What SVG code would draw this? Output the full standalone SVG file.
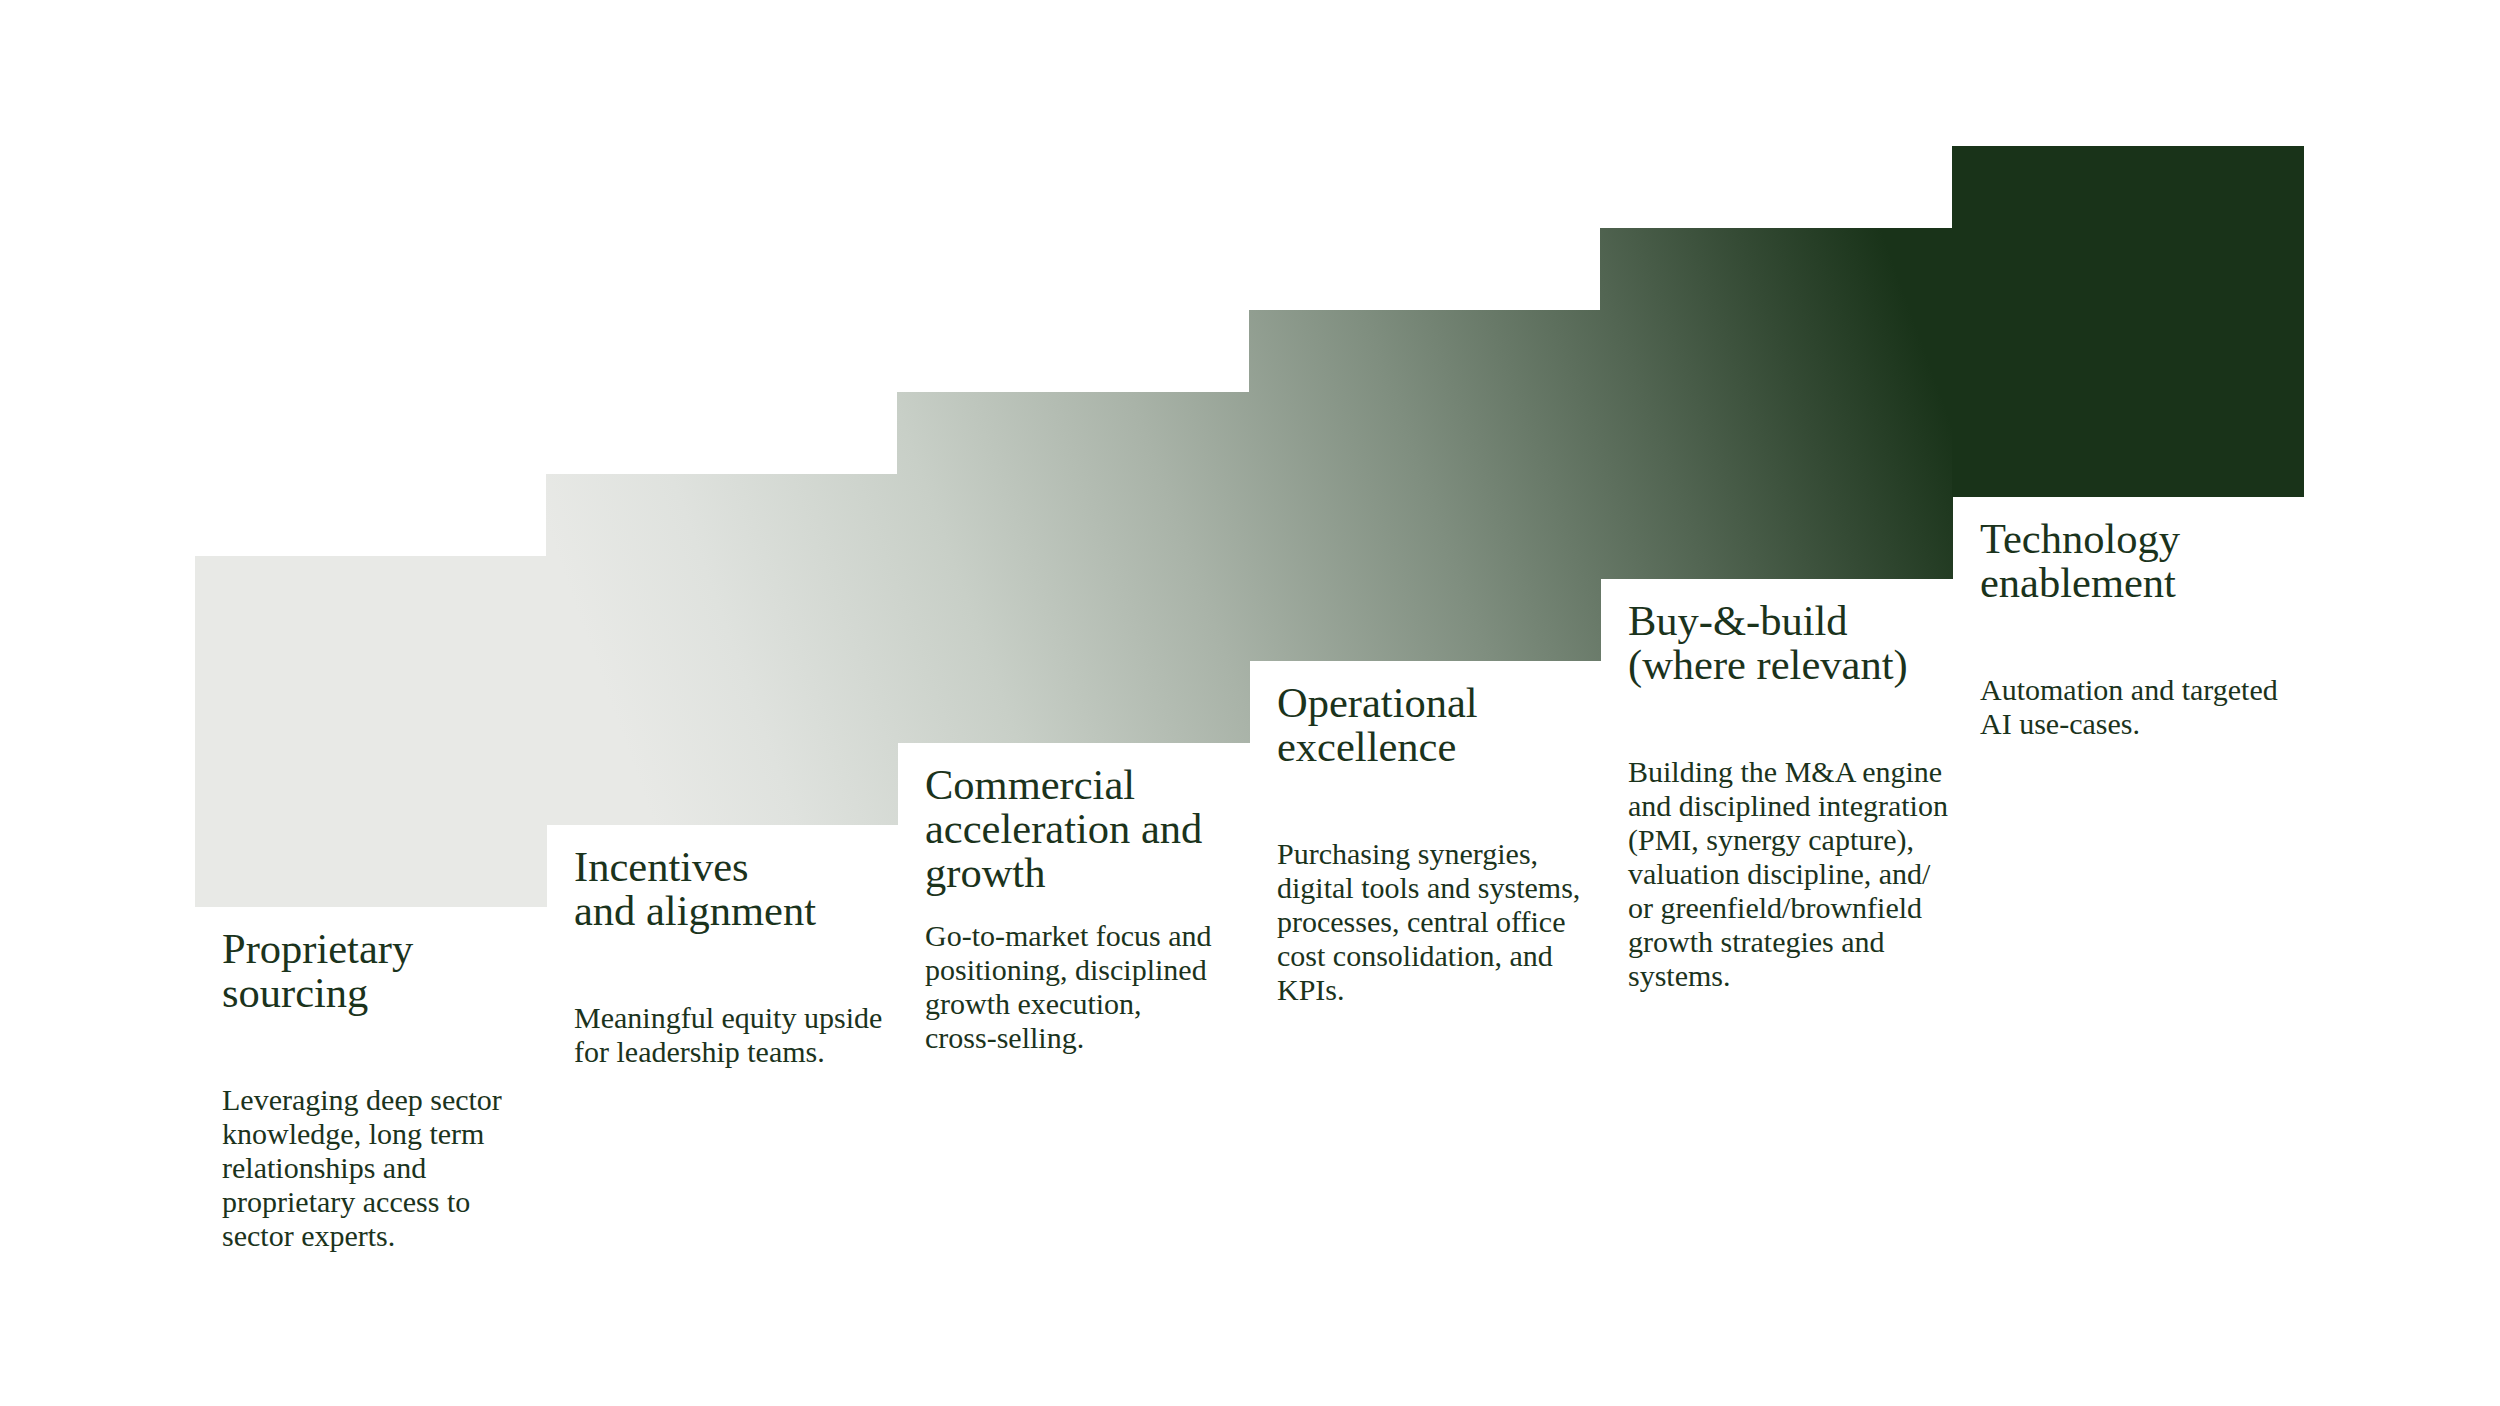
<svg xmlns="http://www.w3.org/2000/svg" width="2500" height="1406" viewBox="0 0 2500 1406">
  <defs>
    <linearGradient id="stairGrad" gradientUnits="userSpaceOnUse" x1="195" y1="907" x2="2304" y2="146">
      <stop offset="0" stop-color="#e8e9e6"/>
      <stop offset="0.205" stop-color="#e8e9e6"/>
      <stop offset="0.265" stop-color="#dfe2de"/>
      <stop offset="0.37" stop-color="#c8cfc7"/>
      <stop offset="0.47" stop-color="#a9b3a8"/>
      <stop offset="0.58" stop-color="#7f8e7f"/>
      <stop offset="0.685" stop-color="#526552"/>
      <stop offset="0.75" stop-color="#344a34"/>
      <stop offset="0.81" stop-color="#193319"/>
      <stop offset="1" stop-color="#193319"/>
    </linearGradient>
    <style>
      .step { fill: url(#stairGrad); }
      .title { font-family: "Liberation Serif", "DejaVu Serif", serif; font-size: 42.5px; fill: #1b331c; }
      .body { font-family: "Liberation Serif", "DejaVu Serif", serif; font-size: 30px; fill: #1b331c; }
    </style>
  </defs>
  <rect x="0" y="0" width="2500" height="1406" fill="#ffffff"/>

  <g id="connectors"></g>

  <g id="node-proprietary-sourcing">
    <rect class="step" x="195" y="556" width="352" height="351" fill="#e8e9e6"/>
    <text class="title" x="222" y="963"><tspan x="222">Proprietary</tspan><tspan x="222" dy="44">sourcing</tspan></text>
    <text class="body" x="222" y="1110"><tspan x="222">Leveraging deep sector</tspan><tspan x="222" dy="34">knowledge, long term</tspan><tspan x="222" dy="34">relationships and</tspan><tspan x="222" dy="34">proprietary access to</tspan><tspan x="222" dy="34">sector experts.</tspan></text>
  </g>

  <g id="node-incentives">
    <rect class="step" x="546" y="474" width="352" height="351"/>
    <text class="title" x="574" y="881"><tspan x="574">Incentives</tspan><tspan x="574" dy="44">and alignment</tspan></text>
    <text class="body" x="574" y="1028"><tspan x="574">Meaningful equity upside</tspan><tspan x="574" dy="34">for leadership teams.</tspan></text>
  </g>

  <g id="node-commercial">
    <rect class="step" x="897" y="392" width="353" height="351"/>
    <text class="title" x="925" y="799"><tspan x="925">Commercial</tspan><tspan x="925" dy="44">acceleration and</tspan><tspan x="925" dy="44">growth</tspan></text>
    <text class="body" x="925" y="946"><tspan x="925">Go-to-market focus and</tspan><tspan x="925" dy="34">positioning, disciplined</tspan><tspan x="925" dy="34">growth execution,</tspan><tspan x="925" dy="34">cross-selling.</tspan></text>
  </g>

  <g id="node-operational">
    <rect class="step" x="1249" y="310" width="352" height="351"/>
    <text class="title" x="1277" y="717"><tspan x="1277">Operational</tspan><tspan x="1277" dy="44">excellence</tspan></text>
    <text class="body" x="1277" y="864"><tspan x="1277">Purchasing synergies,</tspan><tspan x="1277" dy="34">digital tools and systems,</tspan><tspan x="1277" dy="34">processes, central office</tspan><tspan x="1277" dy="34">cost consolidation, and</tspan><tspan x="1277" dy="34">KPIs.</tspan></text>
  </g>

  <g id="node-buy-and-build">
    <rect class="step" x="1600" y="228" width="353" height="351"/>
    <text class="title" x="1628" y="635"><tspan x="1628">Buy-&amp;-build</tspan><tspan x="1628" dy="44">(where relevant)</tspan></text>
    <text class="body" x="1628" y="782"><tspan x="1628">Building the M&amp;A engine</tspan><tspan x="1628" dy="34">and disciplined integration</tspan><tspan x="1628" dy="34">(PMI, synergy capture),</tspan><tspan x="1628" dy="34">valuation discipline, and/</tspan><tspan x="1628" dy="34">or greenfield/brownfield</tspan><tspan x="1628" dy="34">growth strategies and</tspan><tspan x="1628" dy="34">systems.</tspan></text>
  </g>

  <g id="node-technology">
    <rect x="1952" y="146" width="352" height="351" fill="#193319"/>
    <text class="title" x="1980" y="553"><tspan x="1980">Technology</tspan><tspan x="1980" dy="44">enablement</tspan></text>
    <text class="body" x="1980" y="700"><tspan x="1980">Automation and targeted</tspan><tspan x="1980" dy="34">AI use-cases.</tspan></text>
  </g>
</svg>
